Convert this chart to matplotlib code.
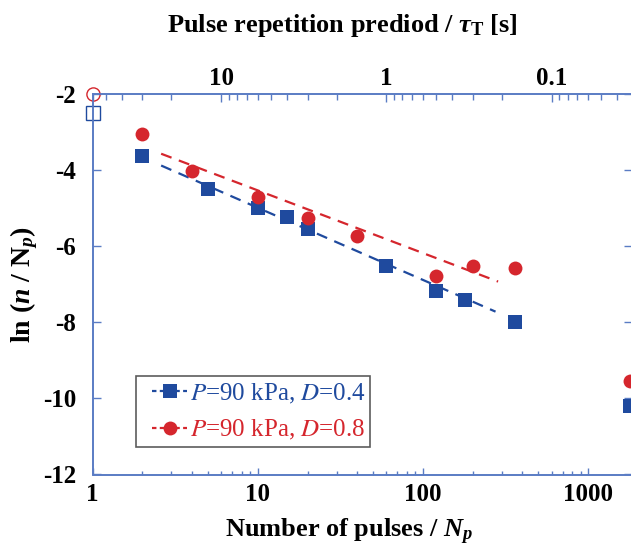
import numpy as np
import matplotlib
matplotlib.use("Agg")
import matplotlib.pyplot as plt
from matplotlib.font_manager import FontProperties
from matplotlib.ticker import FixedLocator, NullFormatter, LogLocator
from matplotlib.legend_handler import HandlerLine2D

# Data
np_blue = [2, 5, 10, 15, 20, 60, 120, 180, 360, 1800]
ln_blue = [-3.62, -4.50, -5.00, -5.24, -5.56, -6.51, -7.19, -7.42, -8.00, -10.20]
np_red = [2, 4, 10, 20, 40, 120, 200, 360, 1800]
ln_red = [-3.06, -4.02, -4.71, -5.26, -5.73, -6.78, -6.52, -6.57, -9.53]

# fitted (dashed) lines, endpoints
fit_x_blue = [2.6, 275]
fit_y_blue = [-3.88, -7.72]
fit_x_red = [2.6, 285]
fit_y_red = [-3.57, -6.93]

# open markers at Np = 1
open_x = [1]
open_blue = [-2.5]
open_red = [-2.0]

period_total = 60.0   # tau_T = 60 / Np

xticks = [1, 10, 100, 1000]
top_ticks = [10, 1, 0.1]
yticks = [-2, -4, -6, -8, -10, -12]
legend_labels = ['$P$=90 kPa, $D$=0.4', '$P$=90 kPa, $D$=0.8']

BLUE = "#1f4a9e"
RED = "#d5262d"
SPINE = "#5a7cc4"

plt.rcParams['font.family'] = 'Liberation Serif'
plt.rcParams['mathtext.fontset'] = 'custom'
plt.rcParams['mathtext.rm'] = 'Liberation Serif:bold'
plt.rcParams['mathtext.it'] = 'Liberation Serif:italic:bold'
plt.rcParams['mathtext.bf'] = 'Liberation Serif:bold'
plt.rcParams['axes.unicode_minus'] = False

fig = plt.figure(figsize=(6.31, 5.53), dpi=100)
ax = fig.add_axes([92.6 / 631, (553 - 474.5) / 553, (631.5 - 92.6) / 631, 380.5 / 553])

ax.plot(fit_x_blue, fit_y_blue, color=BLUE, lw=1.6, dashes=(5, 3.5))
ax.plot(fit_x_red, fit_y_red, color=RED, lw=1.6, dashes=(5, 3.5))
ax.plot(np_blue, ln_blue, 's', color=BLUE, ms=10, mew=0, clip_on=False)
ax.plot(np_red, ln_red, 'o', color=RED, ms=10, mew=0, clip_on=False)
ax.plot(open_x, open_blue, 's', mfc='none', mec=BLUE, ms=9.5, mew=1.0, clip_on=False, zorder=5)
ax.plot(open_x, open_red, 'o', mfc='none', mec=RED, ms=9.5, mew=1.0, clip_on=False, zorder=5)

# legend handles
h1, = ax.plot([], [], color=BLUE, lw=1.6, dashes=(2, 1.5), marker='s', ms=10, mew=0)
h2, = ax.plot([], [], color=RED, lw=1.6, dashes=(2, 1.5), marker='o', ms=10, mew=0)

ax.set_xscale('log')
ax.set_xlim(1, 1830)
ax.set_ylim(-12, -2)
ax.set_xticks(xticks)
ax.set_xticklabels([str(t) for t in xticks])
ax.xaxis.set_minor_locator(LogLocator(base=10, subs=np.arange(2, 10)))
ax.xaxis.set_minor_formatter(NullFormatter())
ax.set_yticks(yticks)
ax.set_yticklabels([str(t) for t in yticks])

for s in ax.spines.values():
    s.set_color(SPINE)
    s.set_linewidth(1.2)

ax.tick_params(which='both', direction='in', color=SPINE, width=1.0,
               right=True, top=False, labelsize=18)
ax.tick_params(axis='x', which='major', length=5, pad=6)
ax.tick_params(axis='x', which='minor', length=3)
ax.tick_params(axis='y', which='major', length=6, pad=12)
for lab in ax.get_xticklabels() + ax.get_yticklabels():
    lab.set_fontweight('bold')

ax.set_xlabel('Number of pulses / $N_p$', fontsize=19, fontweight='bold', labelpad=8)
ax.xaxis.label.set_x(0.476)
ax.set_ylabel('ln ($n$ / N$_p$)', fontsize=20, fontweight='bold', labelpad=2)

# top axis: pulse repetition period
ax2 = ax.twiny()
ax2.set_xscale('log')
ax2.set_xlim(period_total / 1, period_total / 1830)
ax2.xaxis.set_major_locator(FixedLocator(top_ticks))
ax2.set_xticklabels([str(t) for t in top_ticks])
ax2.xaxis.set_minor_locator(LogLocator(base=10, subs=np.arange(2, 10)))
ax2.xaxis.set_minor_formatter(NullFormatter())
for s in ax2.spines.values():
    s.set_color(SPINE)
    s.set_linewidth(1.2)
ax2.tick_params(which='both', direction='in', color=SPINE, width=1.0, labelsize=18, pad=3)
ax2.tick_params(which='major', length=6)
ax2.tick_params(which='minor', length=4)
for lab in ax2.get_xticklabels():
    lab.set_fontweight('bold')
ax2.set_xlabel(r'Pulse repetition prediod / $\tau_\mathrm{T}$ [s]', fontsize=19,
               fontweight='bold', labelpad=25)
ax2.xaxis.label.set_x(0.463)

leg_font = FontProperties(family='Liberation Serif', size=18, math_fontfamily='stix')
leg = ax.legend([h1, h2], legend_labels,
                loc='lower left', bbox_to_anchor=(0.0805, 0.072), prop=leg_font,
                frameon=True, fancybox=False, borderpad=0.2, handlelength=1.85,
                handletextpad=0.1, labelspacing=0.5, borderaxespad=0,
                handler_map={h1: HandlerLine2D(xpad=0.45), h2: HandlerLine2D(xpad=0.45)})
leg.get_frame().set_edgecolor('#333333')
leg.get_frame().set_linewidth(1.2)
for txt, c in zip(leg.get_texts(), [BLUE, RED]):
    txt.set_color(c)

fig.savefig('out.png', dpi=100)
